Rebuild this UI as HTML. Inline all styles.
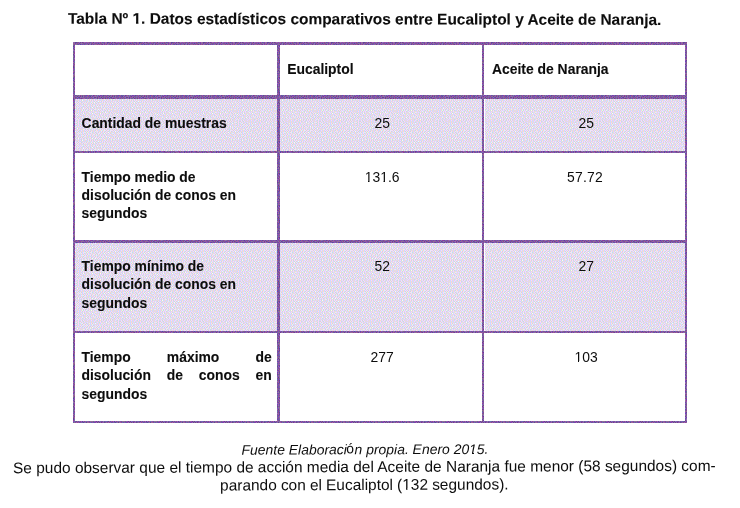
<!DOCTYPE html>
<html>
<head>
<meta charset="utf-8">
<style>
html,body{margin:0;padding:0;background:#fff;}
body{width:740px;height:508px;position:relative;overflow:hidden;font-family:"Liberation Sans",sans-serif;color:#0d0d0d;}
.abs{position:absolute;}
.title{left:68.2px;top:10px;-webkit-text-stroke:0.1px #0d0d0d;font-size:15.45px;transform:translateY(0.3px) rotate(0.12deg);transform-origin:296px 14px;font-weight:bold;white-space:nowrap;line-height:18px;}
.b{background:#795ca2;}
.sh{background:#e3dbed;}
.t{font-size:13.9px;font-weight:bold;-webkit-text-stroke:0.1px #0d0d0d;line-height:18.2px;white-space:nowrap;}
.n{font-size:13.9px;line-height:18.2px;white-space:nowrap;text-align:center;}
.src{font-size:13.93px;font-style:italic;white-space:nowrap;line-height:18px;}
.p{font-size:15.46px;white-space:nowrap;line-height:18px;}
</style>
</head>
<body>
<div id="wrap" style="position:absolute;left:0;top:0;width:740px;height:508px;will-change:transform;">
<div class="abs title">Tabla Nº 1. Datos estadísticos comparativos entre Eucaliptol y Aceite de Naranja.</div>

<!-- flat fallback layers (covered by dithered SVG patterns below) -->
<div class="abs sh" style="left:75px;top:99px;width:202px;height:52px;"></div>
<div class="abs sh" style="left:280px;top:99px;width:202px;height:52px;"></div>
<div class="abs sh" style="left:485px;top:99px;width:200px;height:52px;"></div>
<div class="abs sh" style="left:75px;top:243px;width:202px;height:88px;"></div>
<div class="abs sh" style="left:280px;top:243px;width:202px;height:88px;"></div>
<div class="abs sh" style="left:485px;top:243px;width:200px;height:88px;"></div>
<div class="abs b" style="left:73px;top:42px;width:614px;height:3px;"></div>
<div class="abs b" style="left:73px;top:95px;width:614px;height:4px;"></div>
<div class="abs b" style="left:73px;top:151px;width:614px;height:2px;"></div>
<div class="abs b" style="left:73px;top:240px;width:614px;height:3px;"></div>
<div class="abs b" style="left:73px;top:331px;width:614px;height:2px;"></div>
<div class="abs b" style="left:73px;top:421px;width:614px;height:2px;"></div>
<div class="abs b" style="left:73px;top:42px;width:2px;height:381px;"></div>
<div class="abs b" style="left:277px;top:42px;width:3px;height:381px;"></div>
<div class="abs b" style="left:482px;top:42px;width:2px;height:381px;"></div>
<div class="abs b" style="left:685px;top:42px;width:2px;height:381px;"></div>

<!-- shaded rows + borders -->
<svg class="abs" style="left:0;top:0;" width="740" height="508" viewBox="0 0 740 508" shape-rendering="crispEdges"><defs><pattern id="dz" width="40" height="40" patternUnits="userSpaceOnUse"><rect width="40" height="40" fill="#d0d9fe"/><path fill="#fcd5fc" d="M1 0h1v1h-1zM3 0h1v1h-1zM7 0h1v1h-1zM11 0h1v1h-1zM15 0h1v1h-1zM18 0h1v1h-1zM22 0h1v1h-1zM24 0h1v1h-1zM27 0h1v1h-1zM29 0h1v1h-1zM31 0h1v1h-1zM35 0h1v1h-1zM38 0h1v1h-1zM1 1h1v1h-1zM4 1h1v1h-1zM14 1h1v1h-1zM20 1h1v1h-1zM23 1h1v1h-1zM26 1h1v1h-1zM28 1h1v1h-1zM30 1h1v1h-1zM32 1h1v1h-1zM38 1h1v1h-1zM0 2h1v1h-1zM2 2h1v1h-1zM7 2h1v1h-1zM17 2h1v1h-1zM20 2h1v1h-1zM29 2h1v1h-1zM31 2h1v1h-1zM34 2h1v1h-1zM36 2h1v1h-1zM38 2h1v1h-1zM2 3h1v1h-1zM5 3h1v1h-1zM11 3h1v1h-1zM13 3h1v1h-1zM21 3h1v1h-1zM24 3h1v1h-1zM38 3h1v1h-1zM3 4h2v1h-2zM6 4h1v1h-1zM19 4h1v1h-1zM23 4h1v1h-1zM25 4h1v1h-1zM31 4h1v1h-1zM35 4h2v1h-2zM38 4h1v1h-1zM0 5h1v1h-1zM2 5h1v1h-1zM5 5h1v1h-1zM7 5h1v1h-1zM9 5h1v1h-1zM12 5h1v1h-1zM15 5h1v1h-1zM17 5h1v1h-1zM19 5h1v1h-1zM22 5h1v1h-1zM24 5h1v1h-1zM28 5h1v1h-1zM1 6h1v1h-1zM4 6h1v1h-1zM6 6h1v1h-1zM8 6h1v1h-1zM11 6h1v1h-1zM13 6h1v1h-1zM16 6h1v1h-1zM18 6h1v1h-1zM20 6h1v1h-1zM22 6h1v1h-1zM25 6h2v1h-2zM28 6h1v1h-1zM32 6h1v1h-1zM34 6h1v1h-1zM36 6h1v1h-1zM38 6h1v1h-1zM0 7h1v1h-1zM3 7h1v1h-1zM5 7h1v1h-1zM8 7h1v1h-1zM10 7h1v1h-1zM15 7h1v1h-1zM17 7h1v1h-1zM22 7h1v1h-1zM24 7h1v1h-1zM27 7h1v1h-1zM30 7h1v1h-1zM35 7h1v1h-1zM6 8h1v1h-1zM16 8h1v1h-1zM26 8h1v1h-1zM30 8h1v1h-1zM32 8h1v1h-1zM34 8h1v1h-1zM4 9h1v1h-1zM6 9h1v1h-1zM9 9h1v1h-1zM12 9h1v1h-1zM14 9h1v1h-1zM20 9h1v1h-1zM22 9h1v1h-1zM24 9h1v1h-1zM26 9h1v1h-1zM33 9h1v1h-1zM35 9h1v1h-1zM39 9h1v1h-1zM1 10h1v1h-1zM5 10h1v1h-1zM7 10h1v1h-1zM9 10h1v1h-1zM16 10h1v1h-1zM25 10h1v1h-1zM27 10h2v1h-2zM31 10h2v1h-2zM34 10h1v1h-1zM38 10h1v1h-1zM6 11h1v1h-1zM8 11h1v1h-1zM11 11h1v1h-1zM15 11h1v1h-1zM17 11h1v1h-1zM21 11h1v1h-1zM23 11h1v1h-1zM26 11h1v1h-1zM30 11h1v1h-1zM33 11h1v1h-1zM37 11h1v1h-1zM0 12h1v1h-1zM3 12h1v1h-1zM5 12h1v1h-1zM10 12h1v1h-1zM14 12h1v1h-1zM17 12h1v1h-1zM19 12h1v1h-1zM23 12h1v1h-1zM25 12h1v1h-1zM38 12h1v1h-1zM1 13h1v1h-1zM3 13h1v1h-1zM8 13h1v1h-1zM11 13h1v1h-1zM15 13h1v1h-1zM18 13h1v1h-1zM21 13h1v1h-1zM26 13h1v1h-1zM29 13h1v1h-1zM33 13h1v1h-1zM37 13h1v1h-1zM39 13h1v1h-1zM4 14h1v1h-1zM6 14h1v1h-1zM8 14h1v1h-1zM10 14h1v1h-1zM14 14h1v1h-1zM16 14h1v1h-1zM18 14h1v1h-1zM20 14h1v1h-1zM25 14h1v1h-1zM28 14h1v1h-1zM30 14h1v1h-1zM34 14h1v1h-1zM38 14h1v1h-1zM1 15h1v1h-1zM3 15h1v1h-1zM5 15h1v1h-1zM7 15h1v1h-1zM10 15h1v1h-1zM12 15h1v1h-1zM20 15h1v1h-1zM23 15h1v1h-1zM25 15h1v1h-1zM33 15h1v1h-1zM35 15h1v1h-1zM4 16h1v1h-1zM14 16h1v1h-1zM16 16h1v1h-1zM19 16h1v1h-1zM21 16h1v1h-1zM23 16h1v1h-1zM28 16h1v1h-1zM34 16h1v1h-1zM37 16h1v1h-1zM39 16h1v1h-1zM1 17h1v1h-1zM3 17h1v1h-1zM10 17h1v1h-1zM13 17h1v1h-1zM15 17h2v1h-2zM18 17h1v1h-1zM22 17h1v1h-1zM24 17h1v1h-1zM32 17h1v1h-1zM34 17h1v1h-1zM36 17h1v1h-1zM38 17h1v1h-1zM0 18h1v1h-1zM2 18h1v1h-1zM5 18h1v1h-1zM8 18h1v1h-1zM17 18h1v1h-1zM19 18h1v1h-1zM21 18h1v1h-1zM23 18h1v1h-1zM28 18h1v1h-1zM31 18h1v1h-1zM35 18h1v1h-1zM2 19h1v1h-1zM6 19h1v1h-1zM8 19h1v1h-1zM10 19h1v1h-1zM14 19h1v1h-1zM18 19h1v1h-1zM33 19h1v1h-1zM36 19h1v1h-1zM38 19h1v1h-1zM0 20h1v1h-1zM8 20h1v1h-1zM10 20h1v1h-1zM12 20h1v1h-1zM14 20h1v1h-1zM16 20h1v1h-1zM25 20h1v1h-1zM27 20h1v1h-1zM31 20h1v1h-1zM12 21h1v1h-1zM15 21h1v1h-1zM20 21h1v1h-1zM22 21h1v1h-1zM24 21h1v1h-1zM26 21h1v1h-1zM33 21h1v1h-1zM35 21h1v1h-1zM38 21h1v1h-1zM0 22h1v1h-1zM3 22h1v1h-1zM5 22h1v1h-1zM7 22h1v1h-1zM16 22h1v1h-1zM22 22h1v1h-1zM24 22h1v1h-1zM27 22h1v1h-1zM29 22h1v1h-1zM31 22h1v1h-1zM37 22h1v1h-1zM39 22h1v1h-1zM2 23h1v1h-1zM4 23h1v1h-1zM6 23h1v1h-1zM10 23h1v1h-1zM12 23h1v1h-1zM14 23h1v1h-1zM17 23h1v1h-1zM19 23h1v1h-1zM27 23h1v1h-1zM30 23h1v1h-1zM36 23h1v1h-1zM38 23h1v1h-1zM11 24h1v1h-1zM16 24h1v1h-1zM24 24h1v1h-1zM26 24h1v1h-1zM28 24h1v1h-1zM30 24h1v1h-1zM0 25h1v1h-1zM4 25h1v1h-1zM6 25h1v1h-1zM13 25h1v1h-1zM16 25h1v1h-1zM18 25h1v1h-1zM21 25h1v1h-1zM23 25h1v1h-1zM25 25h1v1h-1zM28 25h1v1h-1zM34 25h1v1h-1zM36 25h1v1h-1zM38 25h1v1h-1zM1 26h1v1h-1zM5 26h1v1h-1zM7 26h1v1h-1zM11 26h1v1h-1zM13 26h1v1h-1zM19 26h1v1h-1zM23 26h1v1h-1zM25 26h1v1h-1zM27 26h1v1h-1zM29 26h1v1h-1zM31 26h1v1h-1zM35 26h1v1h-1zM37 26h1v1h-1zM39 26h1v1h-1zM0 27h1v1h-1zM3 27h1v1h-1zM6 27h1v1h-1zM9 27h1v1h-1zM15 27h1v1h-1zM21 27h1v1h-1zM24 27h1v1h-1zM28 27h1v1h-1zM35 27h1v1h-1zM38 27h1v1h-1zM5 28h1v1h-1zM7 28h1v1h-1zM9 28h1v1h-1zM13 28h1v1h-1zM15 28h1v1h-1zM23 28h1v1h-1zM27 28h1v1h-1zM29 28h1v1h-1zM31 28h1v1h-1zM37 28h1v1h-1zM2 29h1v1h-1zM4 29h1v1h-1zM7 29h1v1h-1zM11 29h1v1h-1zM14 29h1v1h-1zM20 29h1v1h-1zM23 29h1v1h-1zM25 29h1v1h-1zM34 29h1v1h-1zM39 29h1v1h-1zM4 30h1v1h-1zM9 30h1v1h-1zM13 30h1v1h-1zM17 30h1v1h-1zM19 30h1v1h-1zM21 30h1v1h-1zM23 30h1v1h-1zM26 30h1v1h-1zM29 30h1v1h-1zM1 31h1v1h-1zM3 31h1v1h-1zM5 31h1v1h-1zM8 31h1v1h-1zM13 31h1v1h-1zM20 31h1v1h-1zM25 31h1v1h-1zM31 31h1v1h-1zM38 31h1v1h-1zM3 32h1v1h-1zM5 32h1v1h-1zM11 32h1v1h-1zM16 32h1v1h-1zM18 32h1v1h-1zM23 32h1v1h-1zM27 32h1v1h-1zM30 32h1v1h-1zM32 32h1v1h-1zM34 32h1v1h-1zM1 33h1v1h-1zM10 33h1v1h-1zM14 33h1v1h-1zM22 33h1v1h-1zM24 33h1v1h-1zM26 33h1v1h-1zM30 33h1v1h-1zM33 33h1v1h-1zM38 33h1v1h-1zM2 34h1v1h-1zM4 34h1v1h-1zM15 34h1v1h-1zM18 34h1v1h-1zM20 34h1v1h-1zM22 34h1v1h-1zM24 34h1v1h-1zM29 34h1v1h-1zM31 34h1v1h-1zM35 34h1v1h-1zM39 34h1v1h-1zM0 35h1v1h-1zM6 35h1v1h-1zM8 35h1v1h-1zM13 35h1v1h-1zM16 35h1v1h-1zM21 35h1v1h-1zM24 35h1v1h-1zM27 35h1v1h-1zM31 35h1v1h-1zM33 35h1v1h-1zM36 35h1v1h-1zM38 35h1v1h-1zM2 36h1v1h-1zM7 36h1v1h-1zM9 36h1v1h-1zM11 36h1v1h-1zM15 36h1v1h-1zM17 36h1v1h-1zM19 36h1v1h-1zM21 36h1v1h-1zM25 36h1v1h-1zM27 36h1v1h-1zM29 36h1v1h-1zM32 36h1v1h-1zM37 36h1v1h-1zM9 37h1v1h-1zM14 37h1v1h-1zM17 37h1v1h-1zM19 37h1v1h-1zM22 37h1v1h-1zM24 37h1v1h-1zM28 37h1v1h-1zM31 37h1v1h-1zM34 37h1v1h-1zM36 37h1v1h-1zM1 38h1v1h-1zM4 38h1v1h-1zM7 38h1v1h-1zM9 38h1v1h-1zM11 38h1v1h-1zM18 38h1v1h-1zM20 38h1v1h-1zM22 38h1v1h-1zM28 38h1v1h-1zM32 38h1v1h-1zM35 38h1v1h-1zM37 38h1v1h-1zM39 38h1v1h-1zM8 39h1v1h-1zM16 39h1v1h-1zM22 39h1v1h-1zM25 39h1v1h-1zM27 39h1v1h-1zM29 39h1v1h-1zM31 39h1v1h-1zM36 39h1v1h-1zM38 39h1v1h-1z"/><path fill="#d0e0d0" d="M2 0h1v1h-1zM17 0h1v1h-1zM23 0h1v1h-1zM26 0h1v1h-1zM30 0h1v1h-1zM37 0h1v1h-1zM0 1h1v1h-1zM3 1h1v1h-1zM21 1h1v1h-1zM25 1h1v1h-1zM29 1h1v1h-1zM31 1h1v1h-1zM39 1h1v1h-1zM1 2h1v1h-1zM15 2h1v1h-1zM19 2h1v1h-1zM27 2h1v1h-1zM30 2h1v1h-1zM33 2h1v1h-1zM37 2h1v1h-1zM3 3h1v1h-1zM6 3h1v1h-1zM12 3h1v1h-1zM31 3h1v1h-1zM36 3h1v1h-1zM39 3h1v1h-1zM2 4h1v1h-1zM5 4h1v1h-1zM24 4h1v1h-1zM37 4h1v1h-1zM8 5h1v1h-1zM13 5h1v1h-1zM18 5h1v1h-1zM23 5h1v1h-1zM26 5h1v1h-1zM36 5h1v1h-1zM0 6h1v1h-1zM2 6h1v1h-1zM7 6h1v1h-1zM10 6h1v1h-1zM12 6h1v1h-1zM17 6h1v1h-1zM21 6h1v1h-1zM24 6h1v1h-1zM27 6h1v1h-1zM29 6h1v1h-1zM31 6h1v1h-1zM4 7h1v1h-1zM6 7h1v1h-1zM9 7h1v1h-1zM11 7h1v1h-1zM16 7h1v1h-1zM23 7h1v1h-1zM29 7h1v1h-1zM34 7h1v1h-1zM13 8h1v1h-1zM17 8h1v1h-1zM31 8h1v1h-1zM35 8h1v1h-1zM38 8h1v1h-1zM5 9h1v1h-1zM7 9h1v1h-1zM10 9h1v1h-1zM21 9h1v1h-1zM25 9h1v1h-1zM27 9h1v1h-1zM32 9h1v1h-1zM34 9h1v1h-1zM8 10h1v1h-1zM15 10h1v1h-1zM26 10h1v1h-1zM29 10h1v1h-1zM33 10h1v1h-1zM39 10h1v1h-1zM5 11h1v1h-1zM7 11h1v1h-1zM10 11h1v1h-1zM22 11h1v1h-1zM25 11h1v1h-1zM28 11h1v1h-1zM31 11h1v1h-1zM34 11h1v1h-1zM38 11h1v1h-1zM1 12h1v1h-1zM6 12h1v1h-1zM12 12h1v1h-1zM15 12h1v1h-1zM18 12h1v1h-1zM24 12h1v1h-1zM37 12h1v1h-1zM4 13h1v1h-1zM10 13h1v1h-1zM16 13h1v1h-1zM20 13h1v1h-1zM23 13h1v1h-1zM25 13h1v1h-1zM28 13h1v1h-1zM30 13h1v1h-1zM3 14h1v1h-1zM7 14h1v1h-1zM15 14h1v1h-1zM17 14h1v1h-1zM19 14h1v1h-1zM26 14h1v1h-1zM33 14h1v1h-1zM39 14h1v1h-1zM4 15h1v1h-1zM6 15h1v1h-1zM11 15h1v1h-1zM21 15h1v1h-1zM24 15h1v1h-1zM3 16h1v1h-1zM15 16h1v1h-1zM17 16h1v1h-1zM25 16h1v1h-1zM35 16h1v1h-1zM38 16h1v1h-1zM0 17h1v1h-1zM2 17h1v1h-1zM11 17h1v1h-1zM14 17h1v1h-1zM19 17h1v1h-1zM21 17h1v1h-1zM23 17h1v1h-1zM28 17h1v1h-1zM33 17h1v1h-1zM35 17h1v1h-1zM37 17h1v1h-1zM3 18h1v1h-1zM6 18h1v1h-1zM13 18h1v1h-1zM16 18h1v1h-1zM18 18h1v1h-1zM24 18h1v1h-1zM29 18h1v1h-1zM37 18h1v1h-1zM39 18h1v1h-1zM1 19h1v1h-1zM7 19h1v1h-1zM9 19h1v1h-1zM15 19h1v1h-1zM17 19h1v1h-1zM32 19h1v1h-1zM35 19h1v1h-1zM1 20h1v1h-1zM9 20h1v1h-1zM11 20h1v1h-1zM13 20h1v1h-1zM26 20h1v1h-1zM32 20h1v1h-1zM14 21h1v1h-1zM16 21h1v1h-1zM21 21h1v1h-1zM25 21h1v1h-1zM37 21h1v1h-1zM1 22h1v1h-1zM6 22h1v1h-1zM15 22h1v1h-1zM18 22h1v1h-1zM23 22h1v1h-1zM26 22h1v1h-1zM30 22h1v1h-1zM38 22h1v1h-1zM3 23h1v1h-1zM11 23h1v1h-1zM13 23h1v1h-1zM16 23h1v1h-1zM31 23h1v1h-1zM37 23h1v1h-1zM12 24h1v1h-1zM25 24h1v1h-1zM27 24h1v1h-1zM29 24h1v1h-1zM5 25h1v1h-1zM15 25h1v1h-1zM17 25h1v1h-1zM19 25h1v1h-1zM22 25h1v1h-1zM24 25h1v1h-1zM35 25h1v1h-1zM3 26h1v1h-1zM6 26h1v1h-1zM12 26h1v1h-1zM24 26h1v1h-1zM28 26h1v1h-1zM32 26h1v1h-1zM34 26h1v1h-1zM36 26h1v1h-1zM38 26h1v1h-1zM1 27h1v1h-1zM7 27h1v1h-1zM10 27h1v1h-1zM13 27h1v1h-1zM16 27h1v1h-1zM20 27h1v1h-1zM23 27h1v1h-1zM30 27h1v1h-1zM6 28h1v1h-1zM8 28h1v1h-1zM14 28h1v1h-1zM26 28h1v1h-1zM28 28h1v1h-1zM38 28h1v1h-1zM3 29h1v1h-1zM5 29h1v1h-1zM13 29h1v1h-1zM22 29h1v1h-1zM24 29h1v1h-1zM3 30h1v1h-1zM8 30h1v1h-1zM10 30h1v1h-1zM12 30h1v1h-1zM14 30h1v1h-1zM18 30h1v1h-1zM20 30h1v1h-1zM25 30h1v1h-1zM27 30h1v1h-1zM2 31h1v1h-1zM6 31h1v1h-1zM19 31h1v1h-1zM24 31h1v1h-1zM4 32h1v1h-1zM12 32h1v1h-1zM22 32h1v1h-1zM24 32h1v1h-1zM29 32h1v1h-1zM31 32h1v1h-1zM2 33h1v1h-1zM4 33h1v1h-1zM11 33h1v1h-1zM15 33h1v1h-1zM19 33h1v1h-1zM21 33h1v1h-1zM25 33h1v1h-1zM32 33h1v1h-1zM34 33h1v1h-1zM37 33h1v1h-1zM0 34h1v1h-1zM19 34h1v1h-1zM23 34h1v1h-1zM38 34h1v1h-1zM3 35h1v1h-1zM7 35h1v1h-1zM14 35h1v1h-1zM22 35h1v1h-1zM25 35h1v1h-1zM32 35h1v1h-1zM35 35h1v1h-1zM37 35h1v1h-1zM8 36h1v1h-1zM10 36h1v1h-1zM16 36h1v1h-1zM20 36h1v1h-1zM26 36h1v1h-1zM28 36h1v1h-1zM31 36h1v1h-1zM38 36h1v1h-1zM7 37h1v1h-1zM18 37h1v1h-1zM21 37h1v1h-1zM23 37h1v1h-1zM25 37h1v1h-1zM29 37h1v1h-1zM32 37h1v1h-1zM35 37h1v1h-1zM37 37h1v1h-1zM2 38h1v1h-1zM5 38h1v1h-1zM8 38h1v1h-1zM17 38h1v1h-1zM19 38h1v1h-1zM27 38h1v1h-1zM34 38h1v1h-1zM38 38h1v1h-1zM14 39h1v1h-1zM21 39h1v1h-1zM23 39h1v1h-1zM26 39h1v1h-1zM28 39h1v1h-1zM30 39h1v1h-1zM32 39h1v1h-1z"/><path fill="#fcd9c8" d="M5 0h1v1h-1zM9 0h1v1h-1zM13 0h1v1h-1zM20 0h1v1h-1zM33 0h1v1h-1zM6 1h1v1h-1zM8 1h1v1h-1zM11 1h1v1h-1zM16 1h1v1h-1zM18 1h1v1h-1zM34 1h1v1h-1zM36 1h1v1h-1zM4 2h1v1h-1zM9 2h1v1h-1zM11 2h1v1h-1zM13 2h1v1h-1zM22 2h1v1h-1zM24 2h1v1h-1zM8 3h1v1h-1zM17 3h1v1h-1zM19 3h1v1h-1zM26 3h1v1h-1zM34 3h1v1h-1zM0 4h1v1h-1zM9 4h1v1h-1zM11 4h1v1h-1zM14 4h1v1h-1zM16 4h1v1h-1zM21 4h1v1h-1zM27 4h1v1h-1zM29 4h1v1h-1zM33 4h1v1h-1zM31 5h1v1h-1zM34 5h1v1h-1zM38 5h1v1h-1zM14 7h1v1h-1zM20 7h1v1h-1zM37 7h1v1h-1zM39 7h1v1h-1zM1 8h1v1h-1zM3 8h1v1h-1zM8 8h1v1h-1zM11 8h1v1h-1zM19 8h1v1h-1zM22 8h1v1h-1zM24 8h1v1h-1zM28 8h1v1h-1zM0 9h1v1h-1zM2 9h1v1h-1zM15 9h1v1h-1zM18 9h1v1h-1zM30 9h1v1h-1zM37 9h1v1h-1zM3 10h1v1h-1zM11 10h1v1h-1zM13 10h1v1h-1zM17 10h1v1h-1zM20 10h1v1h-1zM23 10h1v1h-1zM36 10h1v1h-1zM1 11h1v1h-1zM3 11h1v1h-1zM13 11h1v1h-1zM19 11h1v1h-1zM8 12h1v1h-1zM21 12h1v1h-1zM27 12h1v1h-1zM30 12h1v1h-1zM32 12h1v1h-1zM35 12h1v1h-1zM6 13h1v1h-1zM13 13h1v1h-1zM35 13h1v1h-1zM1 14h1v1h-1zM12 14h1v1h-1zM22 14h1v1h-1zM31 14h1v1h-1zM36 14h1v1h-1zM14 15h1v1h-1zM18 15h1v1h-1zM27 15h1v1h-1zM29 15h1v1h-1zM32 15h1v1h-1zM37 15h1v1h-1zM1 16h1v1h-1zM7 16h1v1h-1zM9 16h1v1h-1zM12 16h1v1h-1zM30 16h1v1h-1zM5 17h1v1h-1zM7 17h1v1h-1zM26 17h1v1h-1zM31 17h1v1h-1zM10 18h1v1h-1zM26 18h1v1h-1zM33 18h1v1h-1zM4 19h1v1h-1zM12 19h1v1h-1zM21 19h1v1h-1zM23 19h1v1h-1zM25 19h1v1h-1zM28 19h1v1h-1zM30 19h1v1h-1zM5 20h1v1h-1zM17 20h1v1h-1zM19 20h1v1h-1zM22 20h1v1h-1zM29 20h1v1h-1zM34 20h1v1h-1zM36 20h1v1h-1zM38 20h1v1h-1zM2 21h1v1h-1zM4 21h1v1h-1zM7 21h1v1h-1zM10 21h1v1h-1zM28 21h1v1h-1zM31 21h1v1h-1zM9 22h1v1h-1zM12 22h1v1h-1zM19 22h1v1h-1zM33 22h1v1h-1zM0 23h1v1h-1zM8 23h1v1h-1zM21 23h1v1h-1zM23 23h1v1h-1zM25 23h1v1h-1zM34 23h1v1h-1zM1 24h1v1h-1zM4 24h1v1h-1zM6 24h1v1h-1zM9 24h1v1h-1zM14 24h1v1h-1zM18 24h1v1h-1zM20 24h1v1h-1zM33 24h1v1h-1zM36 24h1v1h-1zM38 24h1v1h-1zM11 25h1v1h-1zM30 25h1v1h-1zM32 25h1v1h-1zM9 26h1v1h-1zM15 26h1v1h-1zM4 27h1v1h-1zM18 27h1v1h-1zM32 27h1v1h-1zM1 28h1v1h-1zM11 28h1v1h-1zM17 28h1v1h-1zM19 28h1v1h-1zM21 28h1v1h-1zM25 28h1v1h-1zM33 28h1v1h-1zM35 28h1v1h-1zM0 29h1v1h-1zM9 29h1v1h-1zM16 29h1v1h-1zM28 29h1v1h-1zM30 29h1v1h-1zM32 29h1v1h-1zM37 29h1v1h-1zM1 30h1v1h-1zM31 30h1v1h-1zM34 30h1v1h-1zM36 30h1v1h-1zM38 30h1v1h-1zM11 31h1v1h-1zM15 31h1v1h-1zM17 31h1v1h-1zM27 31h1v1h-1zM29 31h1v1h-1zM33 31h1v1h-1zM35 31h1v1h-1zM0 32h1v1h-1zM7 32h1v1h-1zM14 32h1v1h-1zM20 32h1v1h-1zM36 32h1v1h-1zM38 32h1v1h-1zM6 33h1v1h-1zM8 33h1v1h-1zM17 33h1v1h-1zM28 33h1v1h-1zM6 34h1v1h-1zM9 34h1v1h-1zM12 34h1v1h-1zM16 34h1v1h-1zM26 34h1v1h-1zM33 34h1v1h-1zM1 35h1v1h-1zM4 35h1v1h-1zM11 35h1v1h-1zM19 35h1v1h-1zM29 35h1v1h-1zM5 36h1v1h-1zM23 36h1v1h-1zM0 37h1v1h-1zM4 37h1v1h-1zM12 37h1v1h-1zM39 37h1v1h-1zM13 38h1v1h-1zM15 38h1v1h-1zM24 38h1v1h-1zM30 38h1v1h-1zM0 39h1v1h-1zM3 39h1v1h-1zM6 39h1v1h-1zM10 39h1v1h-1zM12 39h1v1h-1zM17 39h1v1h-1zM34 39h1v1h-1z"/><path fill="#fafafa" d="M26 2h1v1h-1zM15 3h1v1h-1zM32 3h1v1h-1zM30 6h1v1h-1zM12 7h1v1h-1zM37 8h1v1h-1zM35 11h1v1h-1zM28 12h1v1h-1zM24 13h1v1h-1zM26 16h1v1h-1zM29 17h1v1h-1zM12 18h1v1h-1zM15 18h1v1h-1zM38 18h1v1h-1zM2 20h1v1h-1zM18 21h1v1h-1zM14 22h1v1h-1zM32 23h1v1h-1zM17 26h1v1h-1zM33 26h1v1h-1zM12 27h1v1h-1zM3 28h1v1h-1zM18 29h1v1h-1zM11 30h1v1h-1zM25 32h1v1h-1zM3 33h1v1h-1zM12 33h1v1h-1zM20 33h1v1h-1zM37 34h1v1h-1zM6 37h1v1h-1zM26 37h1v1h-1zM20 39h1v1h-1z"/><path fill="#d7fafa" d="M35 2h1v1h-1zM1 3h1v1h-1zM9 3h1v1h-1zM12 4h1v1h-1zM7 8h1v1h-1zM10 8h1v1h-1zM18 8h1v1h-1zM3 9h1v1h-1zM21 10h1v1h-1zM24 10h1v1h-1zM30 10h1v1h-1zM4 12h1v1h-1zM7 12h1v1h-1zM11 12h1v1h-1zM19 13h1v1h-1zM32 13h1v1h-1zM13 14h1v1h-1zM2 15h1v1h-1zM16 15h1v1h-1zM5 16h1v1h-1zM5 19h1v1h-1zM24 19h1v1h-1zM31 19h1v1h-1zM34 19h1v1h-1zM8 21h1v1h-1zM11 22h1v1h-1zM20 23h1v1h-1zM24 23h1v1h-1zM37 24h1v1h-1zM14 25h1v1h-1zM24 28h1v1h-1zM15 29h1v1h-1zM31 29h1v1h-1zM35 29h1v1h-1zM2 30h1v1h-1zM28 30h1v1h-1zM15 32h1v1h-1zM7 34h1v1h-1zM22 36h1v1h-1zM30 37h1v1h-1z"/><path fill="#d7fad7" d="M22 3h1v1h-1zM3 5h1v1h-1zM6 5h1v1h-1zM20 5h1v1h-1zM15 6h1v1h-1zM35 6h1v1h-1zM26 7h1v1h-1zM16 11h1v1h-1zM0 13h1v1h-1zM38 13h1v1h-1zM9 14h1v1h-1zM34 15h1v1h-1zM22 16h1v1h-1zM9 17h1v1h-1zM20 18h1v1h-1zM5 23h1v1h-1zM28 23h1v1h-1zM26 26h1v1h-1zM37 27h1v1h-1zM27 33h1v1h-1zM30 34h1v1h-1zM17 35h1v1h-1zM15 37h1v1h-1zM10 38h1v1h-1zM37 39h1v1h-1z"/><path fill="#fafad7" d="M28 3h1v1h-1zM32 7h1v1h-1zM35 22h1v1h-1zM2 25h1v1h-1zM8 25h1v1h-1zM21 26h1v1h-1zM6 30h1v1h-1zM22 31h1v1h-1zM9 32h1v1h-1zM35 33h1v1h-1zM13 36h1v1h-1zM34 36h1v1h-1zM2 37h1v1h-1z"/></pattern><pattern id="db" width="32" height="32" patternUnits="userSpaceOnUse"><rect width="32" height="32" fill="#926897"/><path fill="#6768bc" d="M1 0h1v1h-1zM9 0h1v1h-1zM22 0h1v1h-1zM29 0h1v1h-1zM8 1h1v1h-1zM18 1h1v1h-1zM21 1h1v1h-1zM24 1h1v1h-1zM23 2h1v1h-1zM29 2h1v1h-1zM10 3h1v1h-1zM28 3h1v1h-1zM12 4h1v1h-1zM19 4h1v1h-1zM4 5h1v1h-1zM10 5h1v1h-1zM22 5h1v1h-1zM20 6h1v1h-1zM26 6h1v1h-1zM2 7h1v1h-1zM24 7h1v1h-1zM12 8h1v1h-1zM31 8h1v1h-1zM5 9h1v1h-1zM24 9h2v1h-2zM1 11h1v1h-1zM3 11h1v1h-1zM17 12h1v1h-1zM19 12h1v1h-1zM21 12h1v1h-1zM5 14h1v1h-1zM30 14h1v1h-1zM9 15h1v1h-1zM11 15h1v1h-1zM5 16h1v1h-1zM30 16h1v1h-1zM11 18h1v1h-1zM20 19h1v1h-1zM24 19h1v1h-1zM2 20h1v1h-1zM28 20h1v1h-1zM20 22h1v1h-1zM26 22h1v1h-1zM11 23h1v1h-1zM17 23h1v1h-1zM27 23h1v1h-1zM1 24h1v1h-1zM3 24h1v1h-1zM22 24h1v1h-1zM4 25h1v1h-1zM6 25h1v1h-1zM15 25h1v1h-1zM20 25h1v1h-1zM16 26h1v1h-1zM18 26h1v1h-1zM27 26h1v1h-1zM6 27h1v1h-1zM11 27h1v1h-1zM21 27h1v1h-1zM23 27h1v1h-1zM2 28h1v1h-1zM9 28h1v1h-1zM17 28h1v1h-1zM6 29h1v1h-1zM8 29h1v1h-1zM10 29h1v1h-1zM26 29h1v1h-1zM16 30h1v1h-1zM29 30h1v1h-1zM31 30h1v1h-1zM6 31h1v1h-1z"/><path fill="#924297" d="M2 0h1v1h-1zM7 0h1v1h-1zM10 0h1v1h-1zM21 0h1v1h-1zM24 0h1v1h-1zM28 0h1v1h-1zM9 1h1v1h-1zM20 1h1v1h-1zM22 1h1v1h-1zM25 1h1v1h-1zM7 2h1v1h-1zM11 2h1v1h-1zM16 2h1v1h-1zM18 2h1v1h-1zM21 2h1v1h-1zM24 2h1v1h-1zM28 2h1v1h-1zM5 3h1v1h-1zM25 3h1v1h-1zM29 3h1v1h-1zM31 3h1v1h-1zM7 4h1v1h-1zM9 4h1v1h-1zM11 4h1v1h-1zM22 4h1v1h-1zM5 5h1v1h-1zM16 5h1v1h-1zM20 5h1v1h-1zM11 6h1v1h-1zM13 6h1v1h-1zM25 6h1v1h-1zM31 6h1v1h-1zM26 7h1v1h-1zM30 7h1v1h-1zM9 8h1v1h-1zM13 8h1v1h-1zM24 8h1v1h-1zM6 9h1v1h-1zM23 9h1v1h-1zM4 10h1v1h-1zM8 10h1v1h-1zM14 10h1v1h-1zM19 10h1v1h-1zM25 10h1v1h-1zM0 11h1v1h-1zM4 11h1v1h-1zM13 11h1v1h-1zM20 11h1v1h-1zM28 11h1v1h-1zM1 12h1v1h-1zM3 12h1v1h-1zM5 12h1v1h-1zM8 12h1v1h-1zM10 12h1v1h-1zM18 12h1v1h-1zM20 12h1v1h-1zM17 13h1v1h-1zM22 13h1v1h-1zM4 14h1v1h-1zM6 14h2v1h-2zM13 14h2v1h-2zM29 14h1v1h-1zM31 14h1v1h-1zM5 15h1v1h-1zM10 15h1v1h-1zM22 15h1v1h-1zM26 15h1v1h-1zM29 15h1v1h-1zM4 16h1v1h-1zM7 16h1v1h-1zM14 16h1v1h-1zM23 16h1v1h-1zM26 16h2v1h-2zM31 16h1v1h-1zM0 17h1v1h-1zM3 17h1v1h-1zM5 17h1v1h-1zM11 17h1v1h-1zM16 17h1v1h-1zM23 17h1v1h-1zM30 17h1v1h-1zM8 18h1v1h-1zM21 18h1v1h-1zM0 19h1v1h-1zM2 19h1v1h-1zM6 19h1v1h-1zM17 19h2v1h-2zM23 19h1v1h-1zM25 19h1v1h-1zM27 19h1v1h-1zM31 19h1v1h-1zM1 20h1v1h-1zM10 20h1v1h-1zM14 20h1v1h-1zM29 20h1v1h-1zM1 21h1v1h-1zM6 21h1v1h-1zM10 21h1v1h-1zM12 21h1v1h-1zM17 21h1v1h-1zM21 21h1v1h-1zM28 21h1v1h-1zM0 22h1v1h-1zM23 22h1v1h-1zM3 23h1v1h-1zM10 23h1v1h-1zM12 23h1v1h-1zM14 23h1v1h-1zM18 23h2v1h-2zM26 23h1v1h-1zM4 24h1v1h-1zM6 24h1v1h-1zM15 24h1v1h-1zM19 24h1v1h-1zM26 24h1v1h-1zM31 24h1v1h-1zM0 25h1v1h-1zM3 25h1v1h-1zM10 25h1v1h-1zM12 25h1v1h-1zM14 25h1v1h-1zM16 25h1v1h-1zM25 25h1v1h-1zM30 25h1v1h-1zM6 26h2v1h-2zM14 26h2v1h-2zM22 26h1v1h-1zM24 26h1v1h-1zM26 26h1v1h-1zM0 27h1v1h-1zM10 27h1v1h-1zM12 27h1v1h-1zM17 27h1v1h-1zM20 27h1v1h-1zM22 27h1v1h-1zM3 28h1v1h-1zM5 28h1v1h-1zM10 28h1v1h-1zM18 28h1v1h-1zM22 28h1v1h-1zM27 28h1v1h-1zM29 28h1v1h-1zM2 29h1v1h-1zM7 29h1v1h-1zM9 29h1v1h-1zM11 29h1v1h-1zM25 29h1v1h-1zM30 29h1v1h-1zM0 30h1v1h-1zM12 30h1v1h-1zM14 30h2v1h-2zM21 30h1v1h-1zM25 30h1v1h-1zM27 30h1v1h-1zM5 31h1v1h-1zM9 31h1v1h-1zM16 31h1v1h-1zM20 31h1v1h-1zM23 31h1v1h-1zM30 31h1v1h-1z"/><path fill="#674297" d="M3 0h1v1h-1zM13 0h1v1h-1zM16 0h1v1h-1zM18 0h1v1h-1zM26 0h1v1h-1zM1 1h1v1h-1zM5 1h1v1h-1zM15 1h1v1h-1zM30 1h2v1h-2zM1 2h1v1h-1zM6 2h1v1h-1zM9 2h1v1h-1zM17 2h1v1h-1zM0 3h1v1h-1zM9 3h1v1h-1zM27 3h1v1h-1zM3 4h1v1h-1zM13 4h1v1h-1zM17 4h1v1h-1zM0 5h1v1h-1zM2 5h1v1h-1zM12 5h1v1h-1zM18 5h1v1h-1zM1 6h1v1h-1zM3 6h1v1h-1zM5 6h1v1h-1zM8 6h1v1h-1zM19 6h1v1h-1zM22 6h1v1h-1zM4 7h1v1h-1zM7 7h1v1h-1zM17 7h1v1h-1zM23 7h1v1h-1zM28 7h1v1h-1zM4 8h1v1h-1zM16 8h1v1h-1zM18 8h1v1h-1zM20 8h1v1h-1zM29 8h1v1h-1zM3 9h1v1h-1zM17 9h1v1h-1zM31 9h1v1h-1zM11 10h2v1h-2zM16 10h1v1h-1zM18 10h1v1h-1zM29 10h1v1h-1zM2 11h1v1h-1zM6 12h1v1h-1zM16 12h1v1h-1zM24 12h1v1h-1zM27 12h1v1h-1zM0 13h1v1h-1zM18 13h1v1h-1zM23 13h1v1h-1zM9 14h1v1h-1zM19 14h1v1h-1zM21 14h1v1h-1zM1 15h1v1h-1zM12 15h1v1h-1zM17 15h1v1h-1zM6 16h1v1h-1zM20 16h1v1h-1zM8 17h1v1h-1zM10 17h1v1h-1zM25 17h1v1h-1zM12 18h1v1h-1zM19 18h1v1h-1zM28 18h1v1h-1zM30 18h1v1h-1zM11 19h1v1h-1zM4 20h1v1h-1zM19 20h1v1h-1zM25 20h1v1h-1zM31 20h1v1h-1zM3 21h1v1h-1zM5 21h1v1h-1zM8 21h1v1h-1zM25 21h1v1h-1zM30 21h1v1h-1zM2 22h1v1h-1zM7 22h1v1h-1zM9 22h1v1h-1zM16 22h1v1h-1zM21 22h1v1h-1zM28 22h1v1h-1zM4 23h1v1h-1zM31 23h1v1h-1zM24 24h1v1h-1zM2 25h1v1h-1zM8 25h1v1h-1zM17 25h1v1h-1zM22 25h1v1h-1zM28 25h1v1h-1zM5 26h1v1h-1zM11 26h1v1h-1zM18 27h1v1h-1zM26 27h1v1h-1zM30 27h1v1h-1zM0 28h1v1h-1zM7 28h1v1h-1zM14 28h1v1h-1zM16 28h1v1h-1zM23 28h1v1h-1zM25 28h1v1h-1zM19 29h1v1h-1zM31 29h1v1h-1zM1 30h1v1h-1zM18 30h1v1h-1zM23 30h1v1h-1zM7 31h1v1h-1zM29 31h1v1h-1z"/><path fill="#9242bc" d="M5 0h1v1h-1zM3 1h1v1h-1zM26 1h1v1h-1zM4 3h1v1h-1zM12 3h1v1h-1zM23 3h1v1h-1zM27 4h1v1h-1zM29 4h1v1h-1zM9 5h1v1h-1zM24 5h1v1h-1zM31 5h1v1h-1zM6 6h1v1h-1zM17 6h1v1h-1zM28 6h1v1h-1zM10 7h1v1h-1zM3 8h1v1h-1zM28 9h1v1h-1zM0 10h1v1h-1zM2 10h1v1h-1zM22 10h1v1h-1zM27 10h1v1h-1zM22 11h1v1h-1zM24 11h1v1h-1zM30 11h1v1h-1zM2 13h1v1h-1zM15 13h1v1h-1zM20 13h1v1h-1zM26 13h1v1h-1zM28 13h1v1h-1zM10 14h1v1h-1zM3 15h1v1h-1zM19 15h1v1h-1zM16 16h1v1h-1zM18 16h1v1h-1zM21 16h1v1h-1zM14 17h1v1h-1zM20 17h1v1h-1zM1 18h1v1h-1zM15 18h1v1h-1zM3 19h1v1h-1zM10 19h1v1h-1zM8 20h1v1h-1zM15 20h1v1h-1zM16 21h1v1h-1zM18 22h1v1h-1zM24 22h1v1h-1zM2 23h1v1h-1zM8 24h1v1h-1zM21 24h1v1h-1zM28 24h1v1h-1zM1 26h1v1h-1zM19 26h1v1h-1zM8 27h1v1h-1zM29 27h1v1h-1zM13 28h1v1h-1zM4 29h1v1h-1zM17 29h1v1h-1zM20 29h1v1h-1z"/><path fill="#676897" d="M6 0h1v1h-1zM20 0h1v1h-1zM25 0h1v1h-1zM7 1h1v1h-1zM12 1h1v1h-1zM27 1h1v1h-1zM3 2h2v1h-2zM15 2h1v1h-1zM22 2h1v1h-1zM26 2h1v1h-1zM7 3h1v1h-1zM11 3h1v1h-1zM13 3h1v1h-1zM16 3h1v1h-1zM22 3h1v1h-1zM24 3h1v1h-1zM1 4h1v1h-1zM4 4h1v1h-1zM6 4h1v1h-1zM15 4h1v1h-1zM23 4h2v1h-2zM26 4h1v1h-1zM28 4h1v1h-1zM30 4h1v1h-1zM6 5h1v1h-1zM8 5h1v1h-1zM11 5h1v1h-1zM25 5h1v1h-1zM29 5h1v1h-1zM9 6h1v1h-1zM16 6h1v1h-1zM18 6h1v1h-1zM27 6h1v1h-1zM29 6h1v1h-1zM0 7h1v1h-1zM8 7h1v1h-1zM11 7h1v1h-1zM14 7h1v1h-1zM10 8h1v1h-1zM14 8h1v1h-1zM23 8h1v1h-1zM28 8h1v1h-1zM0 9h1v1h-1zM19 9h1v1h-1zM22 9h1v1h-1zM27 9h1v1h-1zM7 10h1v1h-1zM13 10h1v1h-1zM26 10h1v1h-1zM5 11h1v1h-1zM19 11h1v1h-1zM21 11h1v1h-1zM23 11h1v1h-1zM25 11h1v1h-1zM27 11h1v1h-1zM31 11h1v1h-1zM13 12h1v1h-1zM3 13h1v1h-1zM5 13h1v1h-1zM7 13h1v1h-1zM9 13h3v1h-3zM14 13h1v1h-1zM21 13h1v1h-1zM25 13h1v1h-1zM27 13h1v1h-1zM29 13h1v1h-1zM2 14h1v1h-1zM26 14h1v1h-1zM28 14h1v1h-1zM0 15h1v1h-1zM2 15h1v1h-1zM4 15h1v1h-1zM8 15h1v1h-1zM15 15h1v1h-1zM21 15h1v1h-1zM25 15h1v1h-1zM27 15h1v1h-1zM30 15h1v1h-1zM3 16h1v1h-1zM15 16h1v1h-1zM17 16h1v1h-1zM19 16h1v1h-1zM22 16h1v1h-1zM24 16h1v1h-1zM1 17h1v1h-1zM15 17h1v1h-1zM21 17h1v1h-1zM26 17h1v1h-1zM29 17h1v1h-1zM31 17h1v1h-1zM0 18h1v1h-1zM3 18h1v1h-1zM5 18h1v1h-1zM16 18h1v1h-1zM20 18h1v1h-1zM24 18h1v1h-1zM27 18h1v1h-1zM1 19h1v1h-1zM4 19h1v1h-1zM7 19h1v1h-1zM9 19h1v1h-1zM14 19h2v1h-2zM28 19h1v1h-1zM6 20h1v1h-1zM9 20h1v1h-1zM12 20h1v1h-1zM16 20h2v1h-2zM30 20h1v1h-1zM0 21h1v1h-1zM11 21h1v1h-1zM14 21h1v1h-1zM18 21h1v1h-1zM23 21h1v1h-1zM11 22h1v1h-1zM15 22h1v1h-1zM19 22h1v1h-1zM22 22h1v1h-1zM7 23h1v1h-1zM9 23h1v1h-1zM13 23h1v1h-1zM21 23h1v1h-1zM25 23h1v1h-1zM5 24h1v1h-1zM12 24h1v1h-1zM14 24h1v1h-1zM20 24h1v1h-1zM27 24h1v1h-1zM29 24h1v1h-1zM1 25h1v1h-1zM9 25h1v1h-1zM18 25h1v1h-1zM29 25h1v1h-1zM31 25h1v1h-1zM0 26h1v1h-1zM9 26h1v1h-1zM13 26h1v1h-1zM21 26h1v1h-1zM23 26h1v1h-1zM25 26h1v1h-1zM30 26h1v1h-1zM2 27h1v1h-1zM7 27h1v1h-1zM9 27h1v1h-1zM15 27h1v1h-1zM28 27h1v1h-1zM31 27h1v1h-1zM4 28h1v1h-1zM11 28h1v1h-1zM21 28h1v1h-1zM30 28h1v1h-1zM1 29h1v1h-1zM3 29h1v1h-1zM5 29h1v1h-1zM12 29h1v1h-1zM14 29h1v1h-1zM16 29h1v1h-1zM27 29h3v1h-3zM5 30h1v1h-1zM10 30h1v1h-1zM20 30h1v1h-1zM0 31h1v1h-1zM2 31h1v1h-1zM8 31h1v1h-1zM12 31h1v1h-1zM14 31h1v1h-1zM18 31h1v1h-1zM21 31h1v1h-1zM26 31h2v1h-2z"/><path fill="#9268bc" d="M19 0h1v1h-1zM27 0h1v1h-1zM31 0h1v1h-1zM13 1h1v1h-1zM16 1h1v1h-1zM29 1h1v1h-1zM0 2h1v1h-1zM5 2h1v1h-1zM20 2h1v1h-1zM31 2h1v1h-1zM14 3h1v1h-1zM17 3h1v1h-1zM26 3h1v1h-1zM0 4h1v1h-1zM5 4h1v1h-1zM8 4h1v1h-1zM3 5h1v1h-1zM7 5h1v1h-1zM17 5h1v1h-1zM19 5h1v1h-1zM0 6h1v1h-1zM12 6h1v1h-1zM5 7h1v1h-1zM16 7h1v1h-1zM27 7h1v1h-1zM29 7h1v1h-1zM15 8h1v1h-1zM17 8h1v1h-1zM19 8h1v1h-1zM22 8h1v1h-1zM7 9h1v1h-1zM11 9h1v1h-1zM13 9h1v1h-1zM18 9h1v1h-1zM9 10h1v1h-1zM15 10h1v1h-1zM20 10h1v1h-1zM30 10h1v1h-1zM17 11h1v1h-1zM26 11h1v1h-1zM7 12h1v1h-1zM11 12h1v1h-1zM26 12h1v1h-1zM6 13h1v1h-1zM8 13h1v1h-1zM24 13h1v1h-1zM0 14h1v1h-1zM18 14h1v1h-1zM22 14h1v1h-1zM7 15h1v1h-1zM13 15h1v1h-1zM23 15h1v1h-1zM28 15h1v1h-1zM1 16h1v1h-1zM25 16h1v1h-1zM7 17h1v1h-1zM24 17h1v1h-1zM27 17h1v1h-1zM4 18h1v1h-1zM9 18h1v1h-1zM29 18h1v1h-1zM31 18h1v1h-1zM5 19h1v1h-1zM16 19h1v1h-1zM21 19h1v1h-1zM26 19h1v1h-1zM30 19h1v1h-1zM0 20h1v1h-1zM5 20h1v1h-1zM11 20h1v1h-1zM18 20h1v1h-1zM26 20h1v1h-1zM4 21h1v1h-1zM22 21h1v1h-1zM8 22h1v1h-1zM10 22h1v1h-1zM17 22h1v1h-1zM6 23h1v1h-1zM15 23h1v1h-1zM13 24h1v1h-1zM18 24h1v1h-1zM25 24h1v1h-1zM30 24h1v1h-1zM8 26h1v1h-1zM10 26h1v1h-1zM12 26h1v1h-1zM29 26h1v1h-1zM31 26h1v1h-1zM4 27h1v1h-1zM27 27h1v1h-1zM1 28h1v1h-1zM15 28h1v1h-1zM19 28h1v1h-1zM24 28h1v1h-1zM28 28h1v1h-1zM31 28h1v1h-1zM21 29h1v1h-1zM9 30h1v1h-1zM13 30h1v1h-1zM19 30h1v1h-1zM26 30h1v1h-1zM1 31h1v1h-1zM3 31h1v1h-1zM15 31h1v1h-1zM28 31h1v1h-1z"/><path fill="#6742bc" d="M11 1h1v1h-1zM14 1h1v1h-1zM13 2h1v1h-1zM2 3h1v1h-1zM15 3h1v1h-1zM19 3h1v1h-1zM21 3h1v1h-1zM25 4h1v1h-1zM14 5h1v1h-1zM15 6h1v1h-1zM30 6h1v1h-1zM13 7h1v1h-1zM21 7h1v1h-1zM1 8h1v1h-1zM6 8h1v1h-1zM8 8h1v1h-1zM26 8h1v1h-1zM9 9h1v1h-1zM15 9h1v1h-1zM21 9h1v1h-1zM6 10h1v1h-1zM8 11h1v1h-1zM11 11h1v1h-1zM15 11h1v1h-1zM14 12h1v1h-1zM29 12h1v1h-1zM1 13h1v1h-1zM4 13h1v1h-1zM12 13h1v1h-1zM31 13h1v1h-1zM16 14h1v1h-1zM23 14h1v1h-1zM25 14h1v1h-1zM14 15h1v1h-1zM9 16h1v1h-1zM12 16h1v1h-1zM28 16h1v1h-1zM2 17h1v1h-1zM6 18h1v1h-1zM13 18h1v1h-1zM18 18h1v1h-1zM22 18h1v1h-1zM26 18h1v1h-1zM13 20h1v1h-1zM21 20h1v1h-1zM23 20h1v1h-1zM27 21h1v1h-1zM5 22h1v1h-1zM13 22h1v1h-1zM30 22h1v1h-1zM0 23h1v1h-1zM24 23h1v1h-1zM29 23h1v1h-1zM10 24h1v1h-1zM13 25h1v1h-1zM24 25h1v1h-1zM4 26h1v1h-1zM13 29h1v1h-1zM23 29h1v1h-1zM4 31h1v1h-1zM11 31h1v1h-1zM22 31h1v1h-1zM25 31h1v1h-1z"/></pattern></defs>
<g fill="url(#dz)">
<rect x="75" y="99" width="202" height="52"/>
<rect x="280" y="99" width="202" height="52"/>
<rect x="485" y="99" width="200" height="52"/>
<rect x="75" y="243" width="202" height="88"/>
<rect x="280" y="243" width="202" height="88"/>
<rect x="485" y="243" width="200" height="88"/>
</g>
<g fill="url(#db)">
<rect x="73" y="42" width="614" height="3"/>
<rect x="73" y="95" width="614" height="4"/>
<rect x="73" y="151" width="614" height="2"/>
<rect x="73" y="240" width="614" height="3"/>
<rect x="73" y="331" width="614" height="2"/>
<rect x="73" y="421" width="614" height="2"/>
<rect x="73" y="42" width="2" height="381"/>
<rect x="277" y="42" width="3" height="381"/>
<rect x="482" y="42" width="2" height="381"/>
<rect x="685" y="42" width="2" height="381"/>
</g></svg>

<!-- header -->
<div class="abs t" style="left:287.2px;top:60px;">Eucaliptol</div>
<div class="abs t" style="left:492px;top:60px;">Aceite de Naranja</div>

<!-- row 2 -->
<div class="abs t" style="left:81.6px;top:113.6px;">Cantidad de muestras</div>
<div class="abs n" style="left:281.2px;width:202px;top:114.2px;">25</div>
<div class="abs n" style="left:486.2px;width:200px;top:114.2px;">25</div>

<!-- row 3 -->
<div class="abs t" style="left:81.6px;top:168px;">Tiempo medio de<br>disolución de conos en<br>segundos</div>
<div class="abs n" style="left:281.2px;width:202px;top:168.2px;">131.6</div>
<div class="abs n" style="left:485px;width:200px;top:168.3px;letter-spacing:0.25px;">57.72</div>

<!-- row 4 -->
<div class="abs t" style="left:81.6px;top:256.5px;line-height:18.6px;">Tiempo mínimo de<br>disolución de conos en<br>segundos</div>
<div class="abs n" style="left:281.2px;width:202px;top:257.2px;">52</div>
<div class="abs n" style="left:486.2px;width:200px;top:257.2px;">27</div>

<!-- row 5 -->
<div class="abs t" style="left:81.5px;top:348.1px;width:190.3px;white-space:normal;text-align:justify;">Tiempo máximo de disolución de conos en segundos</div>
<div class="abs n" style="left:281.2px;width:202px;top:347.8px;">277</div>
<div class="abs n" style="left:486.2px;width:200px;top:347.8px;">103</div>

<!-- trim feet of digit 1 to match Helvetica-style numeral -->
<div class="abs" style="background:#fff;left:365px;top:181px;width:3px;height:1px;"></div>
<div class="abs" style="background:#fff;left:370px;top:181px;width:3px;height:1px;"></div>
<div class="abs" style="background:#fff;left:380px;top:181px;width:3px;height:1px;"></div>
<div class="abs" style="background:#fff;left:385px;top:181px;width:3px;height:1px;"></div>
<div class="abs" style="background:#fff;left:574px;top:361px;width:4px;height:1px;"></div>
<div class="abs" style="background:#fff;left:579px;top:361px;width:4px;height:1px;"></div>

<!-- footer -->
<div class="abs" style="left:0;top:0;width:740px;height:508px;transform:rotate(-0.19deg);transform-origin:364px 465px;">
<div class="abs src" style="left:241.6px;top:440px;transform:translateY(0.25px);">Fuente Elaboraci<span style="font-style:normal;position:relative;top:-1px;margin-left:-0.6px;margin-right:0.6px;">ó</span>n propia. Enero 2015.</div>
<div class="abs p" style="left:13px;top:458px;transform:translateY(0px);">Se pudo observar que el tiempo de acción media del Aceite de Naranja fue menor (58 segundos) com-</div>
<div class="abs p" style="left:220px;top:476px;word-spacing:-0.2px;transform:translateY(0px);">parando con el Eucaliptol (132 segundos).</div>
</div>
<div class="abs" style="background:#fff;left:132px;top:22px;width:4px;height:2px;"></div>
<div class="abs" style="background:#fff;left:139px;top:22px;width:3px;height:2px;"></div>
<div class="abs" style="background:#fff;left:402px;top:488px;width:4px;height:2px;"></div>
<div class="abs" style="background:#fff;left:408px;top:488px;width:3px;height:2px;"></div>
<div class="abs" style="background:#fff;left:468px;top:453px;width:4px;height:1px;"></div>
<div class="abs" style="background:#fff;left:474px;top:453px;width:3px;height:1px;"></div>
<div class="abs" style="background:rgba(255,255,255,.55);left:138px;top:22px;width:1px;height:2px;"></div>
<div class="abs" style="background:rgba(255,255,255,.5);left:369px;top:181px;width:1px;height:1px;"></div>
<div class="abs" style="background:rgba(255,255,255,.5);left:383px;top:181px;width:1px;height:1px;"></div>
<div class="abs" style="background:rgba(255,255,255,.5);left:407px;top:488px;width:1px;height:2px;"></div>
</div>
</body>
</html>
